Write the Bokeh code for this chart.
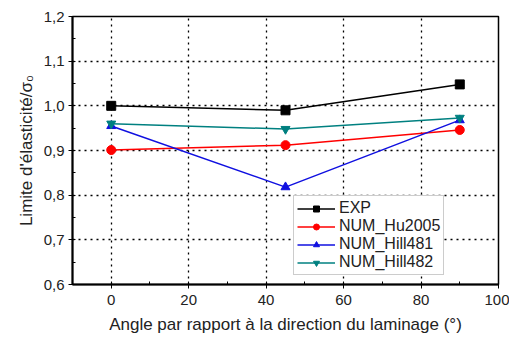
from bokeh.plotting import figure
from bokeh.models import FixedTicker, CustomJSTickFormatter, Range1d, Legend, LegendItem
from bokeh.embed import file_html
from bokeh.resources import INLINE

angles = [0, 45, 90]
exp = [1.000, 0.990, 1.048]
hu2005 = [0.901, 0.912, 0.946]
hill481 = [0.955, 0.818, 0.968]
hill482 = [0.960, 0.948, 0.973]

x_ticks = [0, 20, 40, 60, 80, 100]
y_ticks = [0.6, 0.7, 0.8, 0.9, 1.0, 1.1, 1.2]

FONT = "Liberation Sans"

p = figure(width=509, height=336, output_backend="svg", toolbar_location=None,
           x_range=Range1d(-10, 100), y_range=Range1d(0.6, 1.2),
           min_border_left=72, min_border_right=11, min_border_top=16, min_border_bottom=49)

p.outline_line_color = "black"
p.outline_line_width = 1.5
p.background_fill_color = "white"

for ax in (p.xaxis[0], p.yaxis[0]):
    ax.axis_line_width = 2
    ax.axis_line_color = "black"
    ax.major_tick_line_color = "black"
    ax.minor_tick_line_color = "black"
    ax.major_tick_out = 4
    ax.major_tick_in = 3
    ax.minor_tick_out = 0
    ax.minor_tick_in = 3
    ax.major_label_text_font = FONT
    ax.major_label_text_font_size = "15px"
    ax.major_label_text_color = "#222"
    ax.axis_label_text_font = FONT
    ax.axis_label_text_font_size = "17px"
    ax.axis_label_text_font_style = "normal"
    ax.axis_label_text_color = "#222"

p.xaxis.ticker = FixedTicker(ticks=x_ticks, minor_ticks=[-10, 10, 30, 50, 70, 90])
p.yaxis.ticker = FixedTicker(ticks=y_ticks, minor_ticks=[0.65, 0.75, 0.85, 0.95, 1.05, 1.15])
p.yaxis.formatter = CustomJSTickFormatter(code="return tick.toFixed(1).replace('.', ',');")
p.xaxis.major_label_standoff = 6
p.yaxis.major_label_standoff = 4
p.xaxis.axis_label = "Angle par rapport à la direction du laminage (°)"
p.yaxis.axis_label = "Limite d'élasticité/σ₀"
p.xaxis.axis_label_standoff = 7
p.yaxis.axis_label_standoff = 5

for g in (p.xgrid[0], p.ygrid[0]):
    g.grid_line_color = "black"
    g.grid_line_dash = "2 4"
    g.grid_line_width = 1.3
p.xgrid.ticker = FixedTicker(ticks=[0, 20, 40, 60, 80])
p.ygrid.ticker = FixedTicker(ticks=[0.7, 0.8, 0.9, 1.0, 1.1])

series = [
    ("EXP", exp, "black", "square"),
    ("NUM_Hu2005", hu2005, "#ff0000", "circle"),
    ("NUM_Hill481", hill481, "#1010e0", "triangle"),
    ("NUM_Hill482", hill482, "#008080", "inverted_triangle"),
]
items = []
for name, ys, col, mk in series:
    l = p.line(angles, ys, line_color=col, line_width=1.5)
    m = p.scatter(angles, ys, marker=mk, size=9, fill_color=col, line_color=col)
    items.append(LegendItem(label=name, renderers=[l, m]))

legend = Legend(items=items, location=(221, 9))
legend.border_line_color = "#999"
legend.border_line_width = 1
legend.background_fill_alpha = 1
legend.label_text_font = FONT
legend.label_text_font_size = "16px"
legend.label_text_color = "#222"
legend.label_text_line_height = 1.0
legend.glyph_width = 38
legend.glyph_height = 15
legend.label_height = 15
legend.spacing = 0
legend.padding = 3
legend.margin = 0
legend.label_standoff = 4
p.add_layout(legend, "center")

open("out.html", "w").write(file_html(p, INLINE))
